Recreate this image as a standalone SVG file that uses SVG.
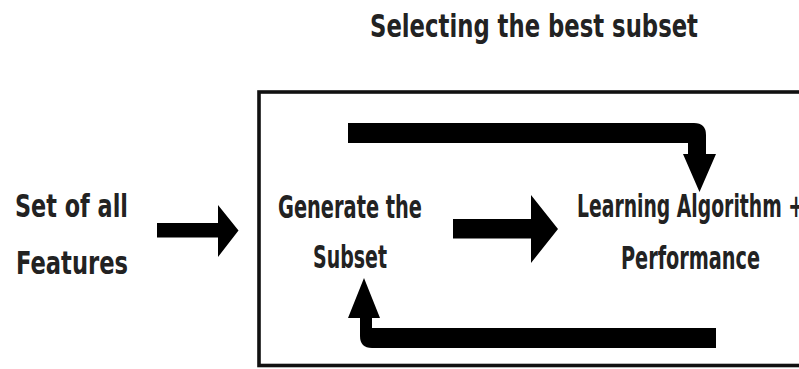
<svg xmlns="http://www.w3.org/2000/svg" width="799" height="369" viewBox="0 0 799 369">
  <style>
    .t { font-family: "Liberation Sans Narrow", "DejaVu Sans Condensed", "Liberation Sans", sans-serif; font-weight: bold; font-size: 32px; fill: #222; }
    .a { fill: #000; stroke: none; }
    .box { fill: none; stroke: #111; stroke-width: 3.6; }
  </style>
  <rect x="0" y="0" width="799" height="369" fill="#fff"/>
  <g id="title">
    <text class="t" x="370" y="36.5" textLength="328" lengthAdjust="spacingAndGlyphs">Selecting the best subset</text>
  </g>
  <g id="selection-box">
    <rect class="box" x="259" y="92" width="570" height="273.5"/>
  </g>
  <g id="all-features">
    <text class="t" x="15" y="216.5" textLength="113" lengthAdjust="spacingAndGlyphs">Set of all</text>
    <text class="t" x="16" y="274" textLength="112" lengthAdjust="spacingAndGlyphs">Features</text>
  </g>
  <g id="generate-subset">
    <text class="t" x="278" y="218" textLength="144" lengthAdjust="spacingAndGlyphs">Generate the</text>
    <text class="t" x="313" y="268" textLength="74" lengthAdjust="spacingAndGlyphs">Subset</text>
  </g>
  <g id="learning-algorithm">
    <text class="t" x="577" y="216.5" textLength="227" lengthAdjust="spacingAndGlyphs">Learning Algorithm +</text>
    <text class="t" x="621" y="269" textLength="139" lengthAdjust="spacingAndGlyphs">Performance</text>
  </g>
  <g id="connectors">
    <path class="a" d="M157 223 H218 V205 L238.5 230.5 L218 257 V237.5 H157 Z"/>
    <path class="a" d="M453 219 H531 V195 L558 229 L531 263 V238.5 H453 Z"/>
    <path class="a" d="M348 123 H694 Q706 123 706 135 V154 H716 L699.5 192 L683 154 H688 V143 H348 Z"/>
    <path class="a" d="M716 328 V348 H372 Q360 348 360 336 V318 H348 L364 278 L380 318 H372 V328 Z"/>
  </g>
</svg>
